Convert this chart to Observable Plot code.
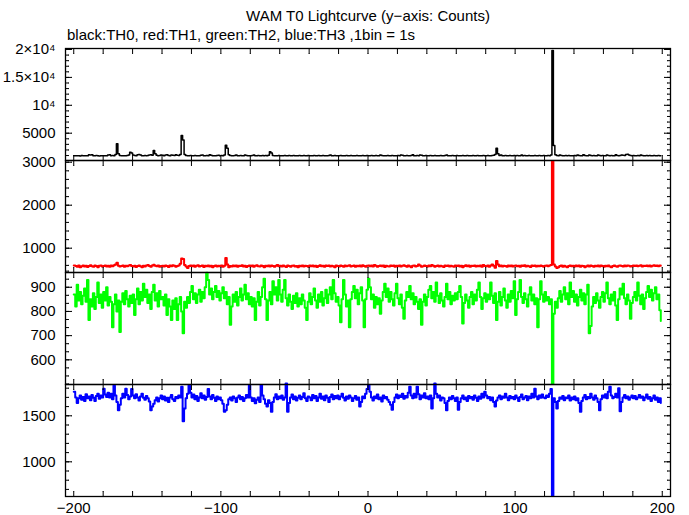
<!DOCTYPE html>
<html>
<head>
<meta charset="utf-8">
<script src="https://cdn.jsdelivr.net/npm/d3@7"></script>
<script src="https://cdn.jsdelivr.net/npm/@observablehq/plot@0.6"></script>
<style>
  html, body { margin: 0; padding: 0; background: #fff; }
  #wrap { position: relative; width: 689px; height: 515px; font-family: "Liberation Sans", Arial, sans-serif; }
  .ttl { position: absolute; white-space: nowrap; font-size: 15px; color: #000; line-height: 1; }
  .pan { position: absolute; left: 0; }
</style>
</head>
<body>
<div id="wrap">
  <div class="ttl" id="title"></div>
  <div class="ttl" id="subtitle"></div>
</div>
<script>
const titleText = "WAM T0 Lightcurve (y\u2212axis: Counts)";
const subtitleText = "black:TH0, red:TH1, green:TH2, blue:TH3 ,1bin = 1s";

// bin start times (1 s bins), -200 .. 199
const times = d3.range(-200, 200);

// TH0 (black) counts per bin
const th0 = [
960,940,980,950,930,1000,960,940,970,950,1150,1100,1150,940,960,1000,950,930,970,960,
950,980,940,1100,1150,960,1000,950,1200,3100,1300,1000,960,950,980,940,1000,1100,1600,1450,
1100,1000,960,1150,1200,1100,950,980,1000,960,1000,1100,1150,1050,1900,1300,1050,980,1000,1100,
1050,980,1100,1150,1000,960,1100,1050,1000,1150,1050,1000,1200,4600,3800,1200,1000,960,980,1000,
950,970,1000,960,940,980,1050,1100,960,950,1000,970,1150,1050,960,980,950,1000,1050,960,
1000,950,1100,2850,2300,1150,1000,960,980,1000,1100,950,960,1000,970,950,1100,1000,960,980,
950,1000,1100,980,960,1000,950,970,1000,960,1000,950,1050,1700,1450,1000,960,950,980,1000,
960,950,980,1000,960,940,1000,950,970,1000,960,980,950,1000,960,940,1000,980,950,1000,
970,960,940,1000,950,980,1000,960,940,1000,970,950,980,1000,1100,960,950,1000,980,960,
950,1000,960,980,940,1000,970,950,1000,960,980,950,1000,960,940,980,1000,950,960,1000,
980,950,1000,960,940,1000,970,960,1100,1000,950,980,960,1000,940,970,1000,950,980,960,
1000,950,1100,1050,960,980,1000,940,960,1000,1150,980,950,1000,960,1100,1050,960,980,1000,
950,980,1000,960,940,1000,970,950,980,1000,960,940,1000,1100,960,950,980,1000,960,940,
1000,960,980,950,1000,960,940,1000,970,950,980,1000,960,950,1000,960,980,940,1000,960,
950,1000,960,980,1000,1050,1200,2300,1300,1000,1100,950,980,1000,960,940,1000,960,980,1000,
960,1000,950,980,1100,960,1000,950,970,1000,960,980,950,1000,960,940,1000,980,950,1000,
960,980,1000,950,1100,19800,2800,1150,1000,960,1100,1000,950,980,1000,960,1000,950,980,960,
1000,950,1100,1000,960,980,1150,1000,950,980,1100,1000,960,1000,950,980,1100,1000,960,1000,
950,980,1100,1000,960,1000,950,980,1150,1000,960,1000,1100,1050,1000,1200,1250,1100,1000,960,
1000,950,980,1000,960,1100,1000,950,980,1000,960,1000,950,980,1000,960,980,1000,950,980
];

// TH1 (red)
const th1 = [
600,585,570,595,560,580,600,575,590,565,585,605,580,570,595,585,560,590,600,575,
585,600,575,590,570,595,580,605,620,660,590,575,585,600,570,590,580,595,610,585,
575,590,565,585,600,580,555,590,575,595,610,585,570,600,615,590,580,595,570,585,
590,575,600,585,565,595,580,605,590,570,585,600,640,760,750,610,575,540,585,600,
580,595,570,590,605,575,585,600,565,590,580,600,575,590,560,585,600,575,590,580,
595,570,590,770,620,560,585,575,595,580,600,570,590,585,605,575,590,565,585,600,
580,595,570,590,605,580,575,600,585,560,590,580,600,575,595,585,570,590,610,580,
590,575,600,580,565,595,585,570,590,600,575,585,560,590,580,600,575,590,585,570,
595,580,600,575,590,565,585,605,580,590,570,595,585,600,575,590,580,560,595,585,
575,600,585,570,595,580,590,605,575,585,600,570,590,580,595,575,605,585,570,590,
600,580,595,575,610,590,570,585,600,580,595,565,590,580,575,600,585,595,570,590,
580,600,575,590,605,585,570,595,580,560,590,600,575,585,620,595,570,580,600,585,
575,595,580,610,590,570,585,600,575,590,580,565,595,585,600,575,590,580,570,595,
585,600,575,590,560,585,605,580,595,570,590,585,600,575,590,580,595,570,610,585,
580,595,570,600,620,590,545,700,620,580,595,575,590,585,570,600,580,595,575,590,
600,580,590,570,595,585,605,575,590,580,565,595,585,600,575,590,580,600,585,570,
590,600,580,595,610,3020,620,575,540,560,585,600,570,590,575,560,585,600,580,590,
575,595,580,600,570,590,585,560,580,595,575,600,585,570,590,580,600,575,595,585,
570,590,580,600,575,560,585,595,580,570,590,600,585,575,595,580,600,590,575,585,
600,585,595,580,590,605,575,590,585,600,580,595,575,590,605,585,595,580,600,590
];

// TH2 (green)
const th2 = [
870,820,910,845,880,830,865,895,840,930,765,850,820,875,810,860,920,835,870,815,
880,845,900,825,860,840,735,830,870,800,845,715,840,875,830,885,850,820,865,835,
870,785,850,895,830,880,845,915,860,890,835,870,810,880,910,845,875,820,885,850,
860,825,870,785,850,820,765,845,810,855,765,830,860,800,710,840,815,860,835,880,
905,850,875,835,870,890,840,880,855,900,960,930,870,895,850,880,905,860,885,845,
875,900,855,880,830,860,745,820,870,840,880,825,860,895,845,870,910,850,875,830,
860,820,855,765,840,880,825,860,900,935,850,765,845,880,830,925,870,900,845,930,
870,840,890,930,855,825,870,840,810,865,835,875,820,855,830,870,845,815,765,840,
875,830,860,895,845,815,870,840,880,825,855,890,835,870,900,850,930,875,840,860,
825,755,850,930,870,820,845,735,850,880,905,855,890,830,875,900,845,735,850,890,
935,900,850,870,815,860,830,855,790,845,880,915,860,895,840,880,850,825,875,915,
855,830,870,815,770,845,880,860,905,850,875,830,860,840,810,850,745,840,870,825,
860,890,905,855,880,840,920,865,835,875,845,820,860,915,850,880,830,865,845,875,
850,880,905,860,750,835,870,845,815,860,880,830,870,845,890,920,860,810,855,875,
840,870,850,920,865,835,875,765,840,880,825,860,895,845,815,870,840,885,855,925,
785,850,880,930,860,835,875,850,820,870,900,845,870,830,855,735,850,925,870,840,
880,845,860,830,850,500,790,840,815,855,885,840,870,900,850,875,830,920,860,885,
840,870,825,860,890,845,875,830,870,910,710,740,820,860,835,875,845,815,860,880,
840,875,920,855,830,870,845,880,825,765,850,895,870,915,855,830,870,845,770,835,
860,880,845,920,865,830,870,810,855,880,905,860,890,845,875,900,850,870,805,760
];

// TH3 (blue)
const th3 = [
1760,1700,1640,1690,1720,1675,1705,1660,1735,1690,1710,1670,1725,1695,1660,1715,1740,1685,1720,1700,
1795,1730,1705,1750,1700,1740,1680,1830,1720,1650,1560,1620,1690,1740,1700,1795,1725,1680,1710,1790,
1720,1690,1735,1700,1665,1710,1740,1695,1675,1715,1690,1655,1560,1600,1630,1670,1700,1655,1690,1720,
1680,1710,1665,1695,1650,1700,1725,1680,1660,1705,1690,1720,1700,1815,1440,1580,1690,1740,1830,1750,
1700,1730,1680,1715,1660,1700,1745,1690,1720,1675,1705,1790,1710,1680,1725,1695,1660,1710,1680,1700,
1670,1630,1545,1560,1620,1680,1700,1665,1710,1690,1650,1700,1720,1680,1705,1660,1690,1725,1700,1830,
1700,1660,1690,1635,1675,1700,1650,1835,1720,1680,1630,1600,1670,1640,1545,1650,1700,1735,1680,1710,
1690,1720,1675,1700,1850,1545,1640,1700,1730,1680,1710,1665,1695,1720,1680,1705,1745,1690,1660,1710,
1700,1670,1725,1690,1715,1660,1700,1740,1685,1710,1670,1720,1695,1650,1705,1730,1680,1715,1690,1720,
1680,1710,1740,1695,1665,1710,1685,1720,1700,1660,1690,1715,1675,1700,1600,1650,1710,1690,1740,1790,
1835,1760,1700,1665,1710,1690,1730,1680,1700,1655,1720,1690,1705,1675,1650,1620,1565,1650,1700,1730,
1690,1720,1705,1740,1685,1715,1700,1750,1815,1720,1690,1740,1700,1815,1735,1680,1720,1700,1745,1690,
1710,1680,1720,1580,1690,1850,1740,1700,1720,1665,1700,1690,1640,1560,1660,1700,1680,1715,1690,1660,
1700,1565,1650,1690,1720,1680,1700,1660,1715,1690,1705,1675,1720,1695,1660,1710,1685,1740,1700,1760,
1720,1690,1705,1670,1700,1650,1600,1665,1700,1720,1680,1710,1695,1740,1700,1670,1715,1690,1705,1680,
1720,1695,1660,1705,1730,1680,1700,1715,1670,1710,1690,1740,1700,1795,1710,1680,1720,1695,1730,1700,
1690,1720,1705,1740,1790,630,1690,1650,1580,1660,1700,1685,1715,1670,1700,1690,1720,1665,1700,1680,
1710,1670,1690,1640,1545,1660,1700,1725,1680,1705,1690,1740,1700,1675,1720,1690,1650,1560,1680,1720,
1700,1735,1690,1760,1815,1720,1690,1705,1740,1700,1800,1550,1650,1700,1725,1690,1710,1675,1700,1720,
1690,1715,1680,1700,1725,1695,1710,1670,1700,1730,1685,1705,1660,1690,1720,1675,1700,1650,1690,1640
];

// axis tick values / labels
const xTickLabels = [-200, -100, 0, 100, 200];
const xTickMarks = d3.range(-200, 201, 20);
const p1Major = [5000, 10000, 15000, 20000];
const p1Labels = ["5000", "10\u2074", "1.5\u00d710\u2074", "2\u00d710\u2074"];
const p1Minor = d3.range(1000, 20001, 1000);
const p2Major = [1000, 2000, 3000];
const p2Minor = d3.range(600, 3001, 200);
const p3Major = [600, 700, 800, 900];
const p3Minor = d3.range(15, 30).map(k => k * 100 / 3);
const p4Major = [1000, 1500];
const p4Minor = d3.range(700, 1801, 100);

const xDomain = [-205.6, 205.6];
const W = 689, ML = 65, MR = 19, PH = 112;
const panels = [
  {vals: th0, color: "#000000", sw: 1.5, domain: [110, 20180], major: p1Major, minor: p1Minor, fmt: d => p1Labels[p1Major.indexOf(d)]},
  {vals: th1, color: "#ff0000", sw: 2, domain: [435, 3040], major: p2Major, minor: p2Minor, fmt: d => String(d)},
  {vals: th2, color: "#00ff00", sw: 2, domain: [498, 961], major: p3Major, minor: p3Minor, fmt: d => String(d)},
  {vals: th3, color: "#0000ff", sw: 2, domain: [623, 1840], major: p4Major, minor: p4Minor, fmt: d => String(d)}
];

const wrap = document.getElementById("wrap");
const title = document.getElementById("title");
title.textContent = titleText;
const subtitle = document.getElementById("subtitle");
subtitle.textContent = subtitleText;

const frameTop0 = 48;
const mt = 12;
panels.forEach((p, i) => {
  const last = i === panels.length - 1;
  const mb = last ? 30 : 12;
  const data = times.map((t, k) => ({t, v: p.vals[k]}));
  const tickStyle = {stroke: "black", strokeWidth: 1, r: 0, anchor: "start"};
  const marks = [
    Plot.lineY(data, {x: "t", y: "v", curve: "step-after", stroke: p.color, strokeWidth: p.sw}),
    Plot.frame({stroke: "black", strokeWidth: 1.3}),
    Plot.vector(p.major, {y: d => d, frameAnchor: "left", length: 6, rotate: 90, ...tickStyle}),
    Plot.vector(p.minor, {y: d => d, frameAnchor: "left", length: 3, rotate: 90, ...tickStyle}),
    Plot.vector(p.major, {y: d => d, frameAnchor: "right", length: 6, rotate: -90, ...tickStyle}),
    Plot.vector(p.minor, {y: d => d, frameAnchor: "right", length: 3, rotate: -90, ...tickStyle}),
    Plot.vector(xTickMarks, {x: d => d, frameAnchor: "top", length: 5, rotate: 180, ...tickStyle}),
    Plot.vector(xTickMarks, {x: d => d, frameAnchor: "bottom", length: 5, rotate: 0, ...tickStyle}),
    Plot.axisY(p.major, {tickSize: 0, tickPadding: 10, tickFormat: p.fmt, fontSize: 15, label: null})
  ];
  if (last) {
    marks.push(Plot.axisX(xTickLabels, {tickSize: 0, tickPadding: 6, fontSize: 15, label: null,
      tickFormat: d => (d < 0 ? "\u2212" + Math.abs(d) : String(d))}));
  }
  const svg = Plot.plot({
    width: W,
    height: PH + mt + mb,
    marginLeft: ML, marginRight: MR, marginTop: mt, marginBottom: mb,
    x: {domain: xDomain, axis: last ? undefined : null, label: null},
    y: {domain: p.domain, label: null},
    style: {fontFamily: "Liberation Sans, Arial, sans-serif", fontSize: "15px", overflow: "visible", background: "transparent", color: "black"},
    marks
  });
  const div = document.createElement("div");
  div.className = "pan";
  div.style.top = (frameTop0 + PH * i - mt) + "px";
  div.appendChild(svg);
  wrap.appendChild(div);
});

// titles positioned after layout
title.style.top = "8px";
title.style.left = (368 - title.getBoundingClientRect().width / 2) + "px";
subtitle.style.top = "27px";
subtitle.style.left = "67px";
</script>
</body>
</html>
